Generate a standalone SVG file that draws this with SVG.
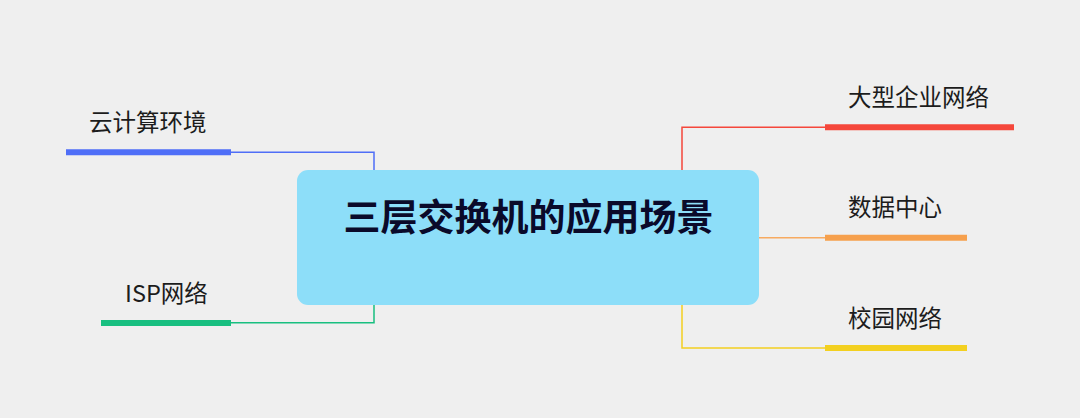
<svg xmlns="http://www.w3.org/2000/svg" width="1080" height="418" viewBox="0 0 1080 418">
<style>
.lbl{font-family:"Noto Sans CJK SC","Noto Sans",sans-serif;font-size:23.5px;fill:#1c1c1c}
.ttl{font-family:"Noto Sans CJK SC","Noto Sans",sans-serif;font-size:37px;font-weight:bold;fill:#0a0a2a}
.thin{fill:none;stroke-width:1.5}
.bar{fill:none;stroke-width:6}
</style>
<rect width="1080" height="418" fill="#efefef"/>
<g id="connectors">
<polyline class="thin" stroke="#4f6ef7" points="231,152.3 374,152.3 374,170"/>
<polyline class="thin" stroke="#18bf80" points="231,322.8 374,322.8 374,305"/>
<polyline class="thin" stroke="#f5473b" points="825,127.3 682,127.3 682,170"/>
<polyline class="thin" stroke="#f7aa60" points="759,237.7 825,237.7"/>
<polyline class="thin" stroke="#f3d020" points="682,305 682,348 825,348"/>
</g>
<g id="center">
<rect x="297" y="170" width="462" height="135" rx="11" fill="#8ddef9"/>
<text class="ttl" x="528.5" y="231" text-anchor="middle">三层交换机的应用场景</text>
</g>
<g id="cloud">
<line class="bar" stroke="#4f6ef7" x1="66" y1="152.3" x2="231" y2="152.3"/>
<text class="lbl" x="89" y="131">云计算环境</text>
</g>
<g id="isp">
<line class="bar" stroke="#18bf80" x1="101" y1="323" x2="231" y2="323"/>
<text class="lbl" x="125" y="302">ISP网络</text>
</g>
<g id="enterprise">
<line class="bar" stroke="#f5473b" x1="825" y1="127.3" x2="1014" y2="127.3"/>
<text class="lbl" x="848" y="106">大型企业网络</text>
</g>
<g id="datacenter">
<line class="bar" stroke="#f6a04d" x1="825" y1="237.7" x2="967" y2="237.7"/>
<text class="lbl" x="848" y="216">数据中心</text>
</g>
<g id="campus">
<line class="bar" stroke="#f3d020" x1="825" y1="348" x2="967" y2="348"/>
<text class="lbl" x="848" y="327">校园网络</text>
</g>
</svg>
